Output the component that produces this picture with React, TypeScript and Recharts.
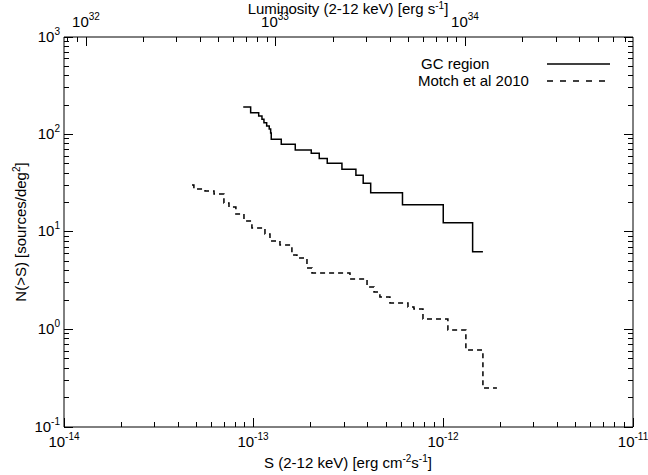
import { LineChart, Line, XAxis, YAxis } from "recharts";

// GC region, cumulative counts: flux where N steps (erg cm-2 s-1), N(>S) after the step
const gcFlux = [
  8.81e-14, 9.64e-14, 1.063e-13, 1.106e-13, 1.133e-13, 1.171e-13, 1.208e-13, 1.229e-13,
  1.238e-13, 1.398e-13, 1.657e-13, 2.012e-13, 2.217e-13, 2.443e-13, 2.92e-13, 3.46e-13,
  3.78e-13, 4.14e-13, 6.09e-13, 9.99e-13, 1.427e-12, 1.617e-12,
];
const gcCount = [
  191, 167, 154.8, 143.2, 132, 122.3, 113.9, 103.6, 89.3, 79.3, 69.3, 64.1, 56.7, 50.7, 44.0,
  38.2, 31.6, 25.3, 19.0, 12.45, 6.28, 6.28,
];

// Motch et al 2010
const motchFlux = [
  4.73e-14, 4.84e-14, 5.54e-14, 6.18e-14, 6.97e-14, 7.41e-14, 8.06e-14, 8.89e-14, 9.79e-14,
  1.147e-13, 1.219e-13, 1.376e-13, 1.591e-13, 1.691e-13, 1.91e-13, 2.03e-13, 3.22e-13,
  3.96e-13, 4.31e-13, 4.63e-13, 5.23e-13, 6.51e-13, 7.0e-13, 7.81e-13, 1.057e-12, 1.315e-12,
  1.617e-12, 1.917e-12,
];
const motchCount = [
  30.3, 27.6, 26.3, 24.5, 19.8, 18.0, 15.3, 12.97, 11.0, 9.54, 8.08, 7.36, 5.81, 5.41, 4.27,
  3.8, 3.3, 2.73, 2.42, 2.15, 1.87, 1.7, 1.62, 1.28, 0.99, 0.616, 0.251, 0.251,
];

const fluxDecades = [1e-14, 1e-13, 1e-12, 1e-11];
const countDecades = [0.1, 1, 10, 100, 1000];
const lumDecades = [1e31, 1e32, 1e33, 1e34];

// L = 4 pi d^2 S at 8 kpc
const LUM_PER_FLUX = 7.63e45;
const fluxDomain = [1e-14, 1e-11];
const countDomain = [0.1, 1000];
const lumDomain = [fluxDomain[0] * LUM_PER_FLUX, fluxDomain[1] * LUM_PER_FLUX];

const gcData = gcFlux.map((s, i) => ({ s, n: gcCount[i] }));
const motchData = motchFlux.map((s, i) => ({ s, n: motchCount[i] }));
// same GC points in luminosity units, only so the top axis has something bound to it
const gcLumData = gcFlux.map((s, i) => ({ l: s * LUM_PER_FLUX, n: gcCount[i] }));

// major + minor ticks (1..9 x each decade) clipped to the domain
const withMinors = (decades: number[], lo: number, hi: number) => {
  const out: number[] = [];
  decades.forEach((d) => {
    for (let m = 1; m <= 9; m++) {
      const v = m * d;
      if (v >= lo * 0.999 && v <= hi * 1.001) out.push(v);
    }
  });
  return out;
};

const fluxTicks = withMinors(fluxDecades, fluxDomain[0], fluxDomain[1]);
const countTicks = withMinors(countDecades, countDomain[0], countDomain[1]);
const lumTicks = withMinors(lumDecades, lumDomain[0], lumDomain[1]);

const isMajor = (v: number) => {
  const l = Math.log10(v);
  return Math.abs(l - Math.round(l)) < 1e-6;
};
const exp = (v: number) => Math.round(Math.log10(v));

const FONT = "'Liberation Sans', Arial, Helvetica, sans-serif";
const MAJOR = 9;
const MINOR = 5;

const Pow = ({ x, y, v, anchor }: any) => (
  <text x={x} y={y} textAnchor={anchor} fontSize={15} fill="#000" fontFamily={FONT}>
    10
    <tspan dy={-7} fontSize={10}>
      {exp(v)}
    </tspan>
  </text>
);

// tick marks point into the plot, like the original IDL figure
const BottomTick = (p: any) => {
  const x = Math.floor(Number(p.x));
  const y = Math.round(Number(p.y));
  const v = p.payload.value;
  const len = isMajor(v) ? MAJOR : MINOR;
  return (
    <g>
      <rect x={x} y={y - len} width={1} height={len} fill="#000" />
      {isMajor(v) && <Pow x={x} y={y + 20} v={v} anchor="middle" />}
    </g>
  );
};

const TopTick = (p: any) => {
  const x = Math.floor(Number(p.x));
  const y = Math.round(Number(p.y));
  const v = p.payload.value;
  const len = isMajor(v) ? MAJOR : MINOR;
  return (
    <g>
      <rect x={x} y={y} width={1} height={len} fill="#000" />
      {isMajor(v) && <Pow x={x} y={y - 10} v={v} anchor="middle" />}
    </g>
  );
};

const LeftTick = (p: any) => {
  const x = Math.round(Number(p.x));
  const y = Math.floor(Number(p.y));
  const v = p.payload.value;
  const len = isMajor(v) ? MAJOR : MINOR;
  return (
    <g>
      <rect x={x} y={y} width={len} height={1} fill="#000" />
      {isMajor(v) && <Pow x={x - 4} y={y + 5} v={v} anchor="end" />}
    </g>
  );
};

const RightTick = (p: any) => {
  const x = Math.round(Number(p.x));
  const y = Math.floor(Number(p.y));
  const len = isMajor(p.payload.value) ? MAJOR : MINOR;
  return <rect x={x - len} y={y} width={len} height={1} fill="#000" />;
};

export default function App() {
  return (
    <div style={{ position: "absolute", left: 0, top: 0, width: 648, height: 475, background: "#fff" }}>
      <LineChart width={648} height={475} margin={{ top: 0, right: 0, bottom: 0, left: 0 }}>
        <XAxis
          xAxisId="bottom"
          dataKey="s"
          type="number"
          scale="log"
          domain={fluxDomain}
          allowDataOverflow
          ticks={fluxTicks}
          interval={0}
          height={48}
          tickSize={0}
          tickMargin={0}
          tickLine={false}
          tick={<BottomTick />}
          axisLine={{ stroke: "#000" }}
        />
        <XAxis
          xAxisId="top"
          dataKey="l"
          orientation="top"
          type="number"
          scale="log"
          domain={lumDomain}
          allowDataOverflow
          ticks={lumTicks}
          interval={0}
          height={37}
          tickSize={0}
          tickMargin={0}
          tickLine={false}
          tick={<TopTick />}
          axisLine={{ stroke: "#000" }}
        />
        <YAxis
          yAxisId="left"
          type="number"
          scale="log"
          domain={countDomain}
          allowDataOverflow
          ticks={countTicks}
          interval={0}
          width={64}
          tickSize={0}
          tickMargin={0}
          tickLine={false}
          tick={<LeftTick />}
          axisLine={{ stroke: "#000" }}
        />
        <YAxis
          yAxisId="right"
          orientation="right"
          type="number"
          scale="log"
          domain={countDomain}
          allowDataOverflow
          ticks={countTicks}
          interval={0}
          width={15}
          tickSize={0}
          tickMargin={0}
          tickLine={false}
          tick={<RightTick />}
          axisLine={{ stroke: "#000" }}
        />
        <Line
          xAxisId="top"
          yAxisId="right"
          data={gcLumData}
          dataKey="n"
          type="stepAfter"
          stroke="none"
          dot={false}
          activeDot={false}
          legendType="none"
          isAnimationActive={false}
        />
        <Line
          xAxisId="bottom"
          yAxisId="left"
          data={gcData}
          dataKey="n"
          type="stepAfter"
          stroke="#000"
          strokeWidth={1.5}
          dot={false}
          isAnimationActive={false}
        />
        <Line
          xAxisId="bottom"
          yAxisId="left"
          data={motchData}
          dataKey="n"
          type="stepAfter"
          stroke="#000"
          strokeWidth={1.5}
          strokeDasharray="5 4"
          dot={false}
          isAnimationActive={false}
        />
      </LineChart>
      <svg
        width={648}
        height={475}
        style={{ position: "absolute", left: 0, top: 0, pointerEvents: "none" }}
        fontFamily={FONT}
        fill="#000"
      >
        <text x={348} y={14} textAnchor="middle" fontSize={15}>
          Luminosity (2-12 keV) [erg s<tspan dy={-5} fontSize={10}>-1</tspan>
          <tspan dy={5}>]</tspan>
        </text>
        <text x={348} y={468} textAnchor="middle" fontSize={15}>
          S (2-12 keV) [erg cm<tspan dy={-6} fontSize={10}>-2</tspan>
          <tspan dy={6}>s</tspan>
          <tspan dy={-6} fontSize={10}>-1</tspan>
          <tspan dy={6}>]</tspan>
        </text>
        <text transform="translate(26,232) rotate(-90)" textAnchor="middle" fontSize={15}>
          N(&gt;S) [sources/deg<tspan dy={-6} fontSize={10}>2</tspan>
          <tspan dy={6}>]</tspan>
        </text>
        <text x={421} y={69} fontSize={15}>GC region</text>
        <line x1={547} x2={610} y1={64} y2={64} stroke="#000" strokeWidth={1.5} />
        <text x={418} y={86} fontSize={15}>Motch et al 2010</text>
        <line x1={547} x2={610} y1={81} y2={81} stroke="#000" strokeWidth={1.5} strokeDasharray="6 7" />
      </svg>
    </div>
  );
}
